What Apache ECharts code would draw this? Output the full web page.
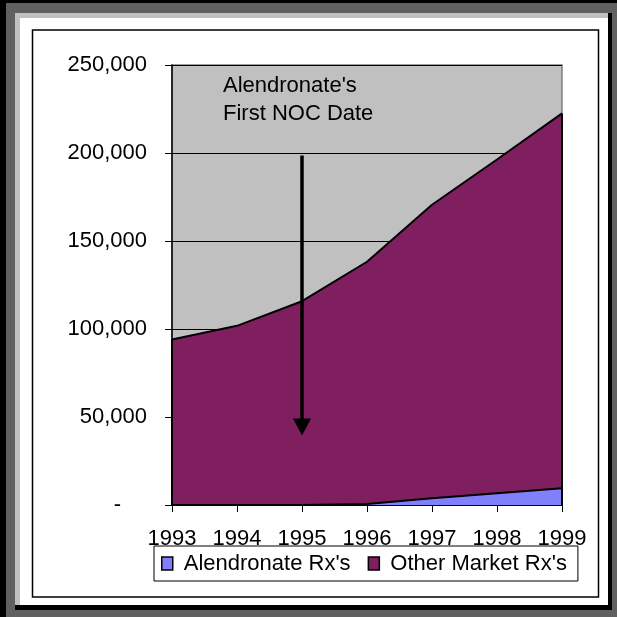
<!DOCTYPE html>
<html>
<head>
<meta charset="utf-8">
<script src="https://cdn.jsdelivr.net/npm/echarts@6/dist/echarts.min.js"></script>
<style>
  html, body { margin: 0; padding: 0; background: #fff; }
  #chart { width: 617px; height: 617px; }
</style>
</head>
<body>
<div id="chart"></div>
<script>
// Prescription volumes by year
const years = ['1993', '1994', '1995', '1996', '1997', '1998', '1999'];
const alendronateRx = [0, 0, 0, 500, 3800, 6700, 9500];
const otherMarketRx = [94000, 101800, 115800, 137700, 166800, 189600, 213000];
const seriesNames = ["Alendronate Rx's", "Other Market Rx's"];
const yTicks = [0, 50000, 100000, 150000, 200000, 250000];

// Annotation arrow: from the note down to the first NOC year
const noteText = "Alendronate's\nFirst NOC Date";
const arrowYear = '1995';
const arrowFrom = 198600;
const arrowTo = 44300;

const FONT = 'Liberation Sans, Arial, sans-serif';
const totals = otherMarketRx.map((v, i) => v + alendronateRx[i]);

const chart = echarts.init(document.getElementById('chart'), null, { renderer: 'canvas' });

const option = {
  animation: false,
  textStyle: { fontFamily: FONT },
  graphic: [
    // beveled outer frame
    { type: 'rect', z: -20, silent: true, shape: { x: 0, y: 0, width: 617, height: 617 }, style: { fill: '#606060' } },
    { type: 'rect', z: -19, silent: true, shape: { x: 0, y: 0, width: 617, height: 3 }, style: { fill: '#000' } },
    { type: 'rect', z: -19, silent: true, shape: { x: 0, y: 0, width: 6, height: 617 }, style: { fill: '#000' } },
    { type: 'rect', z: -18, silent: true, shape: { x: 15, y: 13, width: 597, height: 597 }, style: { fill: '#000' } },
    { type: 'rect', z: -17, silent: true, shape: { x: 15, y: 13, width: 593, height: 592 }, style: { fill: '#c0c0c0' } },
    { type: 'rect', z: -16, silent: true, shape: { x: 20, y: 18, width: 588, height: 587 }, style: { fill: '#fff' } },
    { type: 'rect', z: -15, silent: true, shape: { x: 32.5, y: 30, width: 566, height: 567 }, style: { fill: 'none', stroke: '#000', lineWidth: 1.5 } },
    // note text
    {
      type: 'text', z: 10, silent: true, left: 223, top: 72,
      style: { text: noteText, font: '22px ' + FONT, fill: '#000', lineHeight: 28 }
    }
  ],
  grid: {
    left: 172, right: 55, top: 65, bottom: 112,
    show: true, backgroundColor: '#c0c0c0', borderColor: '#808080', borderWidth: 1.5
  },
  legend: {
    data: seriesNames,
    left: 154, top: 546,
    orient: 'horizontal',
    icon: 'rect',
    itemWidth: 11, itemHeight: 13, itemGap: 17,
    itemStyle: { borderColor: '#000', borderWidth: 1.5 },
    textStyle: { fontSize: 22, color: '#000', fontFamily: FONT, lineHeight: 25, padding: [0, 0, 0, 6] },
    backgroundColor: '#fff', borderColor: '#000', borderWidth: 1,
    padding: [5, 11, 5, 7],
    borderRadius: 0
  },
  xAxis: {
    type: 'category',
    data: years,
    boundaryGap: false,
    axisLine: { lineStyle: { color: '#000', width: 1.5 } },
    axisTick: { show: true, length: 7, lineStyle: { color: '#000', width: 1 } },
    axisLabel: { fontSize: 22, color: '#000', margin: 23, interval: 0, fontFamily: FONT },
    splitLine: { show: false }
  },
  yAxis: {
    type: 'value',
    min: yTicks[0], max: yTicks[yTicks.length - 1], interval: yTicks[1] - yTicks[0],
    axisLine: { show: true, lineStyle: { color: '#000', width: 1.5 } },
    axisTick: { show: true, length: 7, lineStyle: { color: '#000', width: 1 } },
    axisLabel: {
      fontSize: 22, color: '#000', margin: 25, fontFamily: FONT,
      formatter: v => v === 0 ? '{dash|-}' : v.toLocaleString('en-US'),
      rich: { dash: { fontSize: 22, color: '#000', fontFamily: FONT, padding: [0, 26, 0, 0] } }
    },
    splitLine: { show: true, lineStyle: { color: '#000', width: 1 } }
  },
  series: [
    {
      name: seriesNames[0],
      type: 'line',
      stack: 'rx',
      data: alendronateRx,
      symbol: 'none',
      itemStyle: { color: '#8080ff' },
      lineStyle: { color: '#000', width: 2 },
      areaStyle: { color: '#8080ff', opacity: 1 },
      emphasis: { disabled: true }
    },
    {
      name: seriesNames[1],
      type: 'line',
      stack: 'rx',
      data: otherMarketRx,
      symbol: 'none',
      itemStyle: { color: '#7f1f5f' },
      lineStyle: { color: '#000', width: 2 },
      areaStyle: { color: '#7f1f5f', opacity: 1 },
      emphasis: { disabled: true },
      markLine: {
        silent: true,
        animation: false,
        label: { show: false },
        emphasis: { disabled: true },
        data: [
          // area outline on the left and right edges
          [
            { coord: [years[0], 0], symbol: 'none', lineStyle: { color: '#000', width: 2, type: 'solid' } },
            { coord: [years[0], totals[0]], symbol: 'none' }
          ],
          [
            { coord: [years[years.length - 1], 0], symbol: 'none', lineStyle: { color: '#000', width: 2, type: 'solid' } },
            { coord: [years[years.length - 1], totals[totals.length - 1]], symbol: 'none' }
          ],
          // annotation arrow
          [
            { coord: [arrowYear, arrowFrom], symbol: 'none', lineStyle: { color: '#000', width: 3.5, type: 'solid' } },
            { coord: [arrowYear, arrowTo], symbol: 'triangle', symbolSize: [18, 17] }
          ]
        ]
      }
    }
  ]
};

chart.setOption(option);
</script>
</body>
</html>
